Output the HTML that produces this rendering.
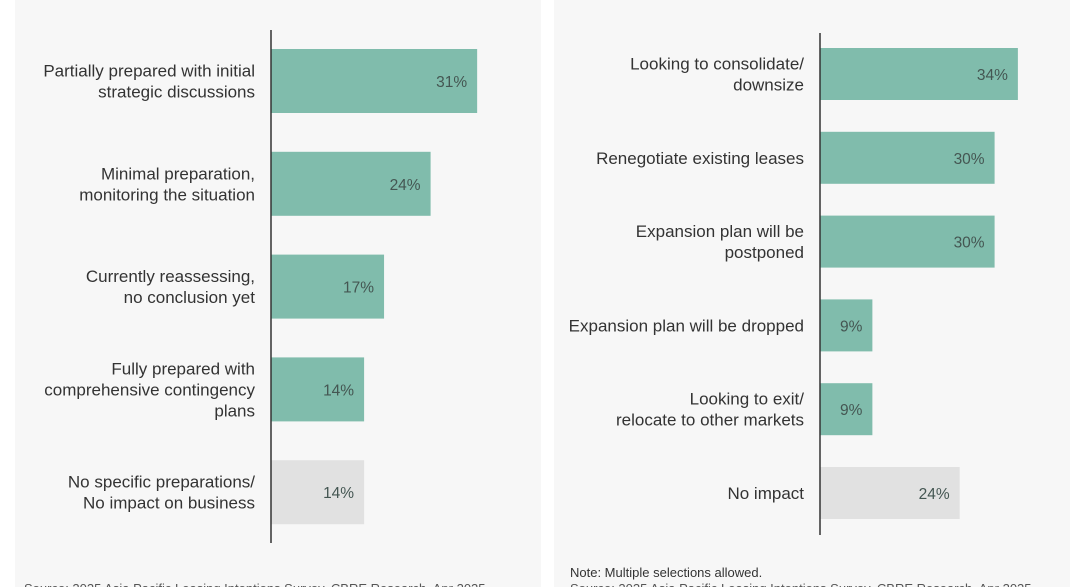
<!DOCTYPE html>
<html><head><meta charset="utf-8"><style>
body{margin:0;width:1081px;height:587px;background:#fff;overflow:hidden;font-family:"Liberation Sans",sans-serif;position:relative}
.panel{position:absolute;top:0;background:#f7f7f7}
svg{position:absolute;left:0;top:0}
</style></head><body>
<div class="panel" style="left:15px;width:526px;height:587px"></div>
<div class="panel" style="left:554px;width:516px;height:587px"></div>
<svg id="c" width="1081" height="587"></svg>
<script>
const leftCats=[["Partially prepared with initial","strategic discussions"],["Minimal preparation,","monitoring the situation"],["Currently reassessing,","no conclusion yet"],["Fully prepared with","comprehensive contingency","plans"],["No specific preparations/","No impact on business"]];
const leftVals=[31,24,17,14,14];
const leftGrey=[false,false,false,false,true];
const rightCats=[["Looking to consolidate/","downsize"],["Renegotiate existing leases"],["Expansion plan will be","postponed"],["Expansion plan will be dropped"],["Looking to exit/","relocate to other markets"],["No impact"]];
const rightVals=[34,30,30,9,9,24];
const rightGrey=[false,false,false,false,false,true];
const NS="http://www.w3.org/2000/svg";
const svg=document.getElementById('c');
function mk(t,a,txt){const e=document.createElementNS(NS,t);for(const k in a)e.setAttribute(k,a[k]);if(txt!=null)e.textContent=txt;svg.appendChild(e);return e;}
function chart(cats,vals,grey,o,prefix){
  const x=v=>o.x0+v*o.k;
  const y=i=>o.y0+i*o.step;
  cats.forEach((c,i)=>{
    const r=mk('rect',{x:o.x0,y:y(i),width:x(vals[i])-o.x0,height:o.h,fill:grey[i]?'#e1e1e1':'#80bcac'});
    
    
    const t=mk('text',{x:x(vals[i])-o.pad,y:y(i)+o.h/2+6,'text-anchor':'end','font-size':15.5,fill:'#445652'},Math.round(vals[i])+'%');
    
    
    const n=c.length,lh=21,cy=y(i)+o.h/2;
    c.forEach((line,j)=>{
      const l=mk('text',{x:o.x0-16,y:cy-(n-1)*lh/2+j*lh+6,'text-anchor':'end','font-size':17,fill:'#333'},line);
      
      
    });
  });
  const a=mk('line',{x1:o.x0,x2:o.x0,y1:o.a1,y2:o.a2,stroke:'#333','stroke-width':1.5});
  
  
}
chart(leftCats,leftVals,leftGrey,{x0:271,k:6.65,y0:49,step:102.8,h:64,pad:10,a1:30,a2:543},'left');
chart(rightCats,rightVals,rightGrey,{x0:820,k:5.82,y0:48,step:83.8,h:52,pad:10,a1:33,a2:535},'right');
const n1=mk('text',{x:570,y:577,'font-size':13,fill:'#333'},'Note: Multiple selections allowed.');


const s1=mk('text',{x:24,y:593,'font-size':13,fill:'#555'},'Source: 2025 Asia Pacific Leasing Intentions Survey, CBRE Research, Apr 2025.');


const s2=mk('text',{x:570,y:593,'font-size':13,fill:'#555'},'Source: 2025 Asia Pacific Leasing Intentions Survey, CBRE Research, Apr 2025.');


</script>
</body></html>
